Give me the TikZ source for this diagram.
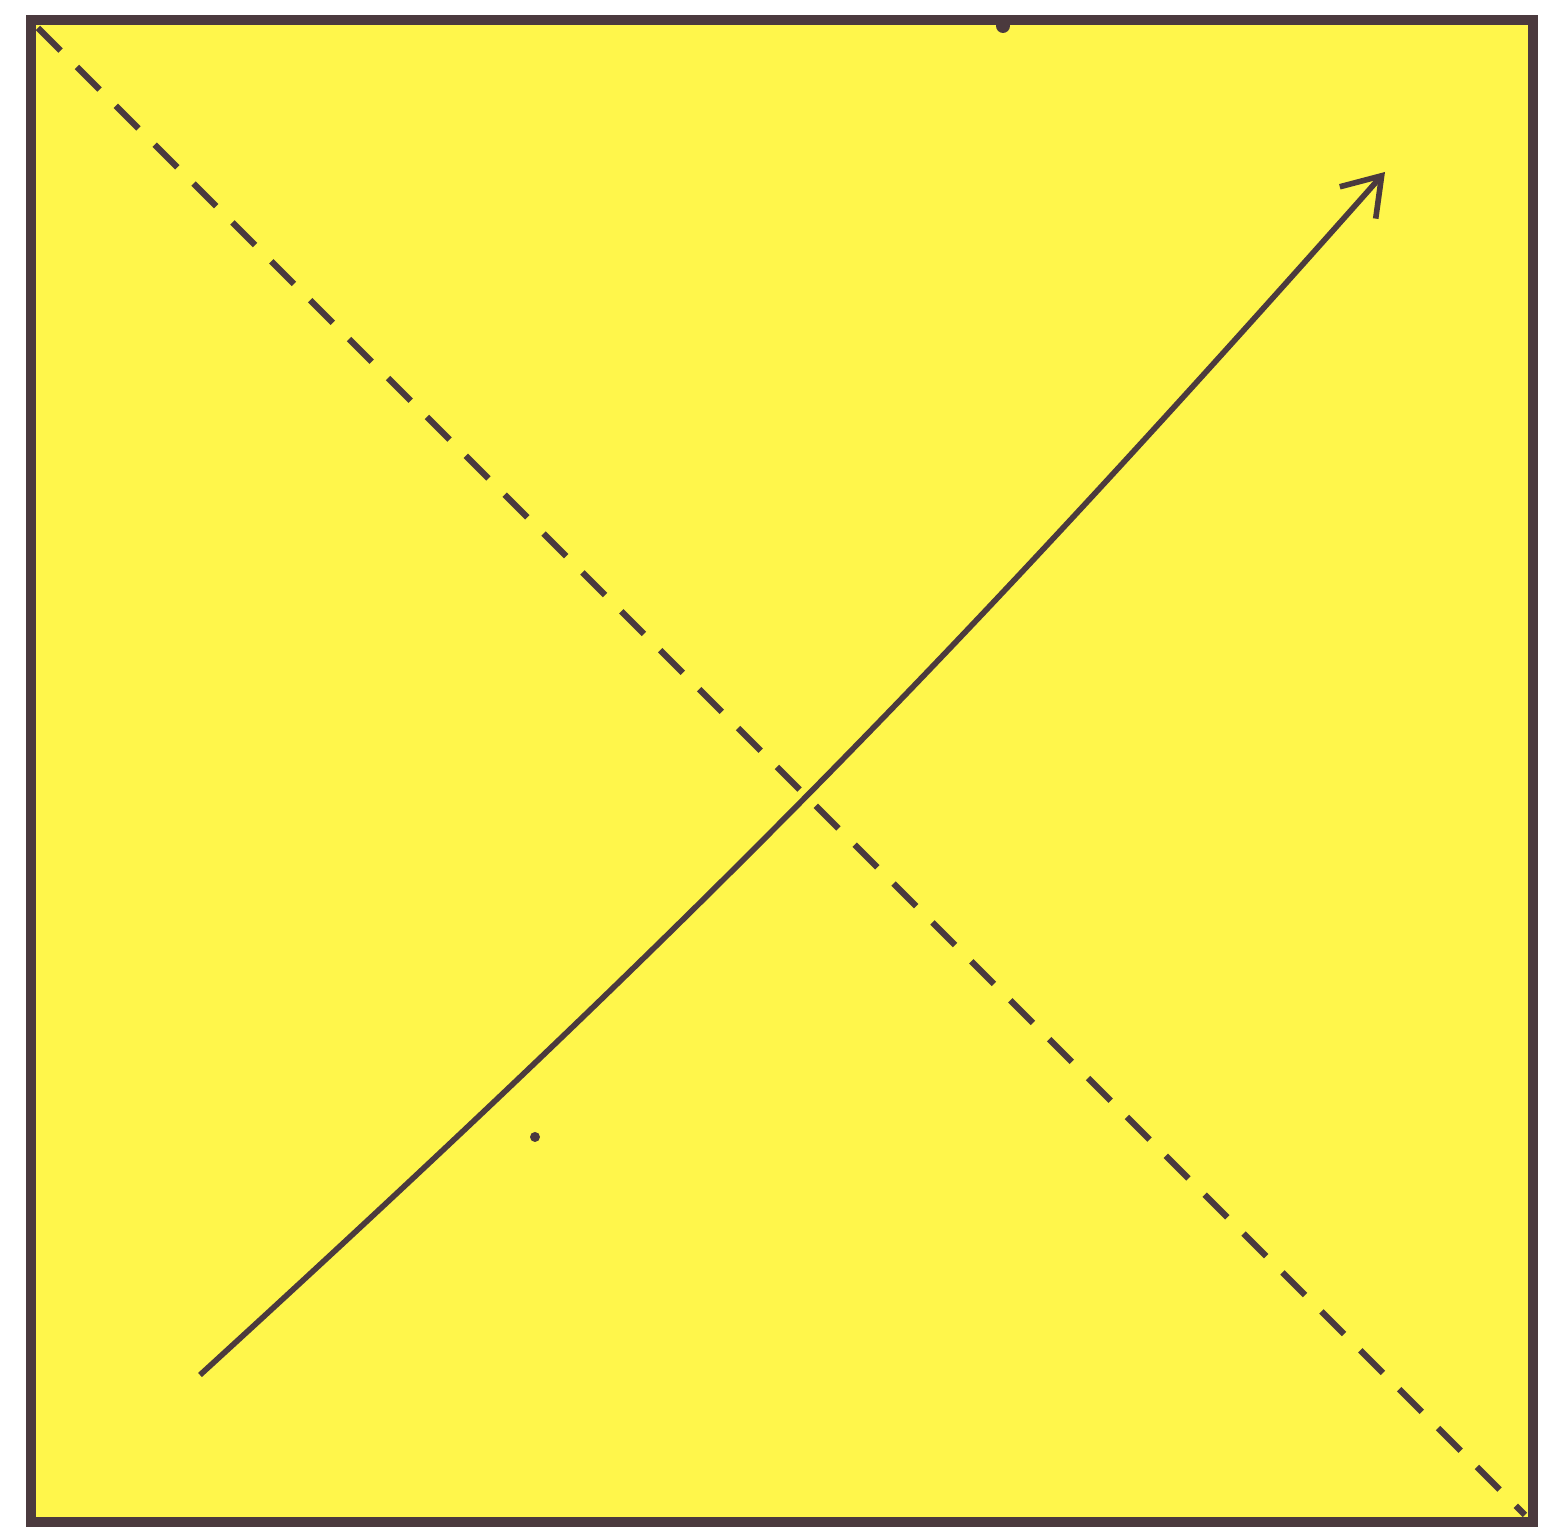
\documentclass[tikz,border=0pt]{standalone}
\usepackage{tikz}
\usetikzlibrary{arrows.meta}
\usepackage{xcolor}
\definecolor{paper}{HTML}{FFF64B}
\definecolor{ink}{HTML}{4B3A3E}

\begin{document}
\begin{tikzpicture}[
  >={Straight Barb[length=3.6mm,width=4.8mm]},
  frame/.style={draw=ink, line width=2.8pt, fill=paper},
  diag/.style={draw=ink, line width=1.8pt, dash pattern=on 3.2mm off 2.3mm},
  motion/.style={draw=ink, line width=1.6pt, ->},
]
\useasboundingbox (0,0) rectangle (15.63,15.30);

\coordinate (tl) at (0.31, 15.10);
\coordinate (br) at (15.33, 0.08);
\draw[frame] (tl) rectangle (br);

% dashed diagonal
\draw[diag] (0.38, 15.02) -- (15.25, 0.15);

% arrow
\coordinate (start) at (2.00, 1.55);
\coordinate (tip) at (13.85, 13.58);
\draw[motion] (start) to[bend right=3] (tip);

% small marks
\fill[ink] (5.35, 3.93) circle (0.05);
\fill[ink] (10.03, 15.04) circle (0.07);

\end{tikzpicture}
\end{document}
